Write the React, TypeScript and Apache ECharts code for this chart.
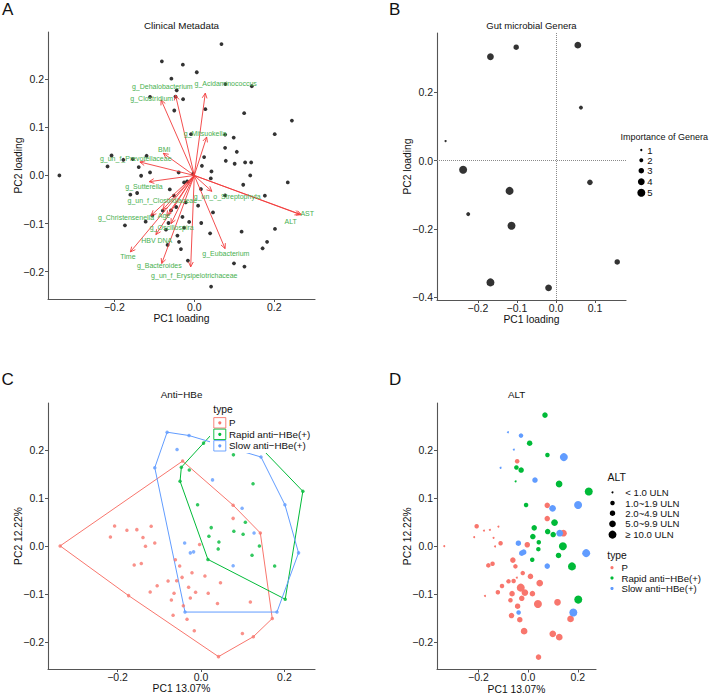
import React, { useEffect, useRef } from "react";
import * as echarts from "echarts";

const FONT = "'Liberation Sans', Arial, Helvetica, sans-serif";
const RED = "#F8766D";
const GREEN = "#00BA38";
const BLUE = "#619CFF";
const AX = "#555555";

// ---- Sample PCA scores (panels A, C, D) ----
const pX = [-0.3375, -0.207, -0.217, -0.1775, -0.1537, -0.139, -0.1193, -0.133, -0.1107, -0.16, -0.143, -0.1735, -0.1217, -0.105, -0.0788, -0.0709, -0.0645, -0.0668, -0.0613, -0.051, -0.0582, -0.0453, -0.0296, -0.0422, -0.0334, -0.044, 0.0771, 0.0771, 0.1423, -0.0033, -0.0215, 0.0095, 0.0468, -0.0129, 0.0174, -0.0255, 0.0396, 0.1184, 0.1709, 0.1255, 0.0993, 0.042, -0.016];
const pY = [0.0, 0.0415, 0.0187, 0.0326, 0.034, 0.0174, 0.0409, -0.0006, 0.0062, -0.04, -0.0365, -0.1037, -0.096, -0.083, -0.0732, -0.1127, -0.0988, -0.1445, -0.029, -0.042, -0.0726, -0.0656, -0.0863, -0.125, -0.153, 0.177, 0.085, 0.0575, 0.027, 0.003, -0.056, -0.0629, -0.0768, -0.0967, -0.0988, -0.1085, -0.1203, -0.1168, -0.1514, -0.1894, -0.1826, -0.231, -0.177];
const pALT = [1, 2, 1, 1, 1, 1, 1, 1, 2, 2, 2, 1, 2, 2, 2, 2, 3, 3, 3, 2, 2, 1, 5, 3, 3, 2, 3, 3, 4, 3, 2, 3, 4, 4, 3, 3, 5, 4, 4, 4, 4, 3, 4];

const rX = [0.068, 0.0062, 0.0778, -0.047, -0.028, -0.0501, 0.1248, 0.2442, -0.0081, 0.0246, 0.1064, 0.0191, 0.0788, 0.101, 0.043, 0.14, 0.0413, 0.0167, 0.1224, 0.1766, 0.2019];
const rY = [0.273, 0.2145, 0.19, 0.164, 0.1585, 0.135, 0.1295, 0.114, 0.0859, 0.0382, 0.0492, 0.0201, 0.0305, 0.0243, 0.0083, 0.0, -0.0062, -0.0282, -0.0193, -0.0421, -0.1112];
const rALT = [3, 3, 2, 2, 3, 1, 4, 5, 2, 3, 4, 3, 3, 3, 2, 5, 2, 2, 3, 5, 5];

const sX = [-0.0811, -0.0286, -0.0573, -0.1107, 0.1439, 0.0277, 0.2012, 0.0986, 0.1272, -0.0391, -0.0255, -0.0177, 0.2339, 0.0771, 0.1821, -0.0382];
const sY = [0.2373, 0.2303, 0.2012, 0.1633, 0.1855, 0.1378, 0.0859, 0.0788, 0.027, 0.0062, -0.0145, -0.0124, -0.0145, -0.0415, -0.138, -0.138];
const sALT = [1, 2, 1, 1, 5, 3, 5, 4, 4, 3, 3, 3, 5, 3, 5, 2];

// ---- Panel A loadings (arrows) ----
const arrowNames = ["g_Dehalobacterium", "g_Clostridium", "g_Acidaminococcus", "g_Mitsuokella", "BMI", "g_un_f_Prevotellaceae", "g_Sutterella", "g_un_f_Clostridiaceae", "g_un_o_Streptophyta", "g_Christensenella", "Age", "g_Oscillospira", "HBV DNA", "Time", "g_Bacteroides", "g_un_f_Erysipelotrichaceae", "g_Eubacterium", "AST", "ALT"];
const arrowTipX = [-0.047, -0.083, 0.0275, 0.031, -0.0775, -0.136, -0.113, -0.079, 0.044, -0.108, -0.069, -0.058, -0.096, -0.16, -0.0815, -0.009, 0.077, 0.268, 0.264];
const arrowTipY = [0.167, 0.157, 0.171, 0.08, 0.046, 0.028, -0.013, -0.071, -0.033, -0.083, -0.084, -0.1, -0.123, -0.159, -0.183, -0.19, -0.152, -0.0815, -0.081];
const labelX = [-0.08, -0.1065, 0.0785, 0.027, -0.075, -0.1465, -0.1258, -0.08, 0.0825, -0.1708, -0.0758, -0.0565, -0.094, -0.166, -0.0875, 0.0, 0.079, 0.2825, 0.241];
const labelY = [0.185, 0.1605, 0.1917, 0.0865, 0.054, 0.0346, -0.0228, -0.053, -0.0435, -0.0878, -0.0836, -0.109, -0.135, -0.168, -0.188, -0.2075, -0.162, -0.08, -0.0954];

// ---- Panel B genera loadings ----
const genX = [-0.168, -0.102, 0.056, 0.064, -0.283, -0.238, -0.119, 0.087, -0.225, -0.114, 0.157, -0.168, -0.019];
const genY = [0.304, 0.332, 0.338, 0.155, 0.057, -0.027, -0.089, -0.064, -0.157, -0.191, -0.297, -0.357, -0.373];
const genImportance = [4, 3, 4, 2, 1, 5, 5, 3, 2, 5, 3, 5, 4];

// ---- Legends / ticks ----
const importanceLevels = ["1", "2", "3", "4", "5"];
const altLevels = ["< 1.0 ULN", "1.0~1.9 ULN", "2.0~4.9 ULN", "5.0~9.9 ULN", "≥ 10.0 ULN"];
const typeLevels = ["P", "Rapid anti−HBe(+)", "Slow anti−HBe(+)"];
const ticksPC1 = [-0.2, 0, 0.2];
const ticksPC2 = [-0.2, -0.1, 0, 0.1, 0.2];
const ticksBx = [-0.2, -0.1, 0, 0.1];
const ticksBy = [-0.4, -0.2, 0, 0.2];

const altSize = [2, 4.5, 5.5, 6.7, 8];
const impSize = [2.3, 4, 5.5, 6.8, 8];

const fmt = (v: number) => (v < -1e-9 ? "−" : "") + Math.abs(v).toFixed(1);

function hull(xs: number[], ys: number[]) {
  const pts = xs.map((x, i) => [x, ys[i]]).sort((a, b) => a[0] - b[0] || a[1] - b[1]);
  const cross = (o: number[], a: number[], b: number[]) => (a[0] - o[0]) * (b[1] - o[1]) - (a[1] - o[1]) * (b[0] - o[0]);
  const lower: number[][] = [];
  for (const p of pts) {
    while (lower.length >= 2 && cross(lower[lower.length - 2], lower[lower.length - 1], p) <= 0) lower.pop();
    lower.push(p);
  }
  const upper: number[][] = [];
  for (const p of pts.slice().reverse()) {
    while (upper.length >= 2 && cross(upper[upper.length - 2], upper[upper.length - 1], p) <= 0) upper.pop();
    upper.push(p);
  }
  upper.pop();
  lower.pop();
  const h = lower.concat(upper);
  h.push(h[0]);
  return h;
}

function axis(gridIndex: number, min: number, max: number, ticks: number[], name: string, isY: boolean) {
  return {
    type: "value",
    gridIndex,
    min,
    max,
    name,
    nameLocation: "middle",
    nameGap: isY ? 24.5 : 14.5,
    nameMoveOverlap: false,
    nameTextStyle: { fontSize: 10.3, color: "#111", fontFamily: FONT },
    axisLine: { show: true, onZero: false, lineStyle: { color: AX, width: 1.1 } },
    axisTick: { show: true, length: 3, customValues: ticks, lineStyle: { color: AX, width: 1 } },
    axisLabel: { customValues: ticks, formatter: fmt, fontSize: 10.5, color: "#1a1a1a", margin: isY ? 4 : 2, fontFamily: FONT },
    splitLine: { show: false },
  };
}

function txt(text: string, x: number, y: number, size: number, align = "left", color = "#111") {
  return {
    type: "text",
    x,
    y,
    z: 100,
    style: {
      text,
      fill: color,
      fontSize: size,
      fontFamily: FONT,
      align,
      verticalAlign: "middle",
      textAlign: align,
      textVerticalAlign: "middle",
    },
  };
}

function buildOption() {
  const allX = [...pX, ...rX, ...sX];
  const allY = [...pY, ...rY, ...sY];
  const groups = [
    { xs: pX, ys: pY, alt: pALT, color: RED, name: typeLevels[0] },
    { xs: rX, ys: rY, alt: rALT, color: GREEN, name: typeLevels[1] },
    { xs: sX, ys: sY, alt: sALT, color: BLUE, name: typeLevels[2] },
  ];

  const series: any[] = [];

  // Panel A
  series.push({
    type: "scatter",
    xAxisIndex: 0,
    yAxisIndex: 0,
    symbolSize: 3.8,
    itemStyle: { color: "#000" },
    data: allX.map((x, i) => [x, allY[i]]),
    silent: true,
    z: 2,
  });
  series.push({
    type: "custom",
    xAxisIndex: 0,
    yAxisIndex: 0,
    data: arrowTipX.map((x, i) => [x, arrowTipY[i]]),
    z: 3,
    silent: true,
    renderItem: (params: any, api: any) => {
      const o = api.coord([0, 0]);
      const t = api.coord([api.value(0), api.value(1)]);
      const ang = Math.atan2(t[1] - o[1], t[0] - o[0]);
      const L = 5.5;
      const a = Math.PI / 7;
      const p1 = [t[0] - L * Math.cos(ang - a), t[1] - L * Math.sin(ang - a)];
      const p2 = [t[0] - L * Math.cos(ang + a), t[1] - L * Math.sin(ang + a)];
      const st = { stroke: "#F23B3B", lineWidth: 0.9, fill: null };
      return {
        type: "group",
        children: [
          { type: "line", shape: { x1: o[0], y1: o[1], x2: t[0], y2: t[1] }, style: st },
          { type: "polyline", shape: { points: [p1, t, p2] }, style: st },
        ],
      };
    },
  });
  series.push({
    type: "custom",
    xAxisIndex: 0,
    yAxisIndex: 0,
    data: labelX.map((x, i) => [x, labelY[i]]),
    z: 4,
    silent: true,
    renderItem: (params: any, api: any) => {
      const c = api.coord([api.value(0), api.value(1)]);
      return {
        type: "text",
        x: c[0],
        y: c[1],
        style: {
          text: arrowNames[params.dataIndex],
          fill: "#47B04F",
          fontSize: 7,
          fontFamily: FONT,
          align: "center",
          verticalAlign: "middle",
          textAlign: "center",
          textVerticalAlign: "middle",
        },
      };
    },
  });

  // Panel B
  series.push({
    type: "scatter",
    xAxisIndex: 1,
    yAxisIndex: 1,
    data: genX.map((x, i) => [x, genY[i], genImportance[i]]),
    symbolSize: (v: number[]) => impSize[v[2] - 1],
    itemStyle: { color: "#000" },
    silent: true,
    markLine: {
      silent: true,
      symbol: "none",
      label: { show: false },
      lineStyle: { type: "dotted", color: "#8a8a8a", width: 1 },
      data: [{ xAxis: 0 }, { yAxis: 0 }],
      animation: false,
    },
  });

  // Panel C
  groups.forEach((g) => {
    series.push({
      type: "line",
      xAxisIndex: 2,
      yAxisIndex: 2,
      data: hull(g.xs, g.ys),
      symbol: "none",
      lineStyle: { color: g.color, width: 1 },
      silent: true,
      z: 1,
    });
  });
  groups.forEach((g) => {
    series.push({
      type: "scatter",
      xAxisIndex: 2,
      yAxisIndex: 2,
      data: g.xs.map((x, i) => [x, g.ys[i]]),
      symbolSize: 3.5,
      itemStyle: { color: g.color },
      silent: true,
      z: 2,
    });
  });

  // Panel D
  groups.forEach((g) => {
    series.push({
      type: "scatter",
      xAxisIndex: 3,
      yAxisIndex: 3,
      data: g.xs.map((x, i) => [x, g.ys[i], g.alt[i]]),
      symbolSize: (v: number[]) => altSize[v[2] - 1],
      itemStyle: { color: g.color, opacity: 1 },
      silent: true,
      z: 2,
    });
  });

  const graphics: any[] = [];
  // Panel letters
  graphics.push(txt("A", 2, 9, 17), txt("B", 389, 9, 17), txt("C", 1.5, 379, 17), txt("D", 389, 379, 17));
  // Titles
  graphics.push(
    txt("Clinical Metadata", 181.5, 25, 9.8, "center"),
    txt("Gut microbial Genera", 531.5, 25, 9.5, "center"),
    txt("Anti−HBe", 181.5, 394.3, 9.8, "center"),
    txt("ALT", 516.5, 394.3, 9.8, "center")
  );

  // B legend
  graphics.push(txt("Importance of Genera", 620.5, 136.7, 9));
  const bY = [150, 160.3, 170.7, 181.7, 192.7];
  importanceLevels.forEach((lv, i) => {
    graphics.push({ type: "circle", z: 100, shape: { cx: 641.3, cy: bY[i], r: impSize[i] / 2 }, style: { fill: "#000" } });
    graphics.push(txt(lv, 647.3, bY[i], 9.5));
  });

  // C legend
  graphics.push({ type: "rect", z: 99, shape: { x: 210, y: 400.5, width: 104, height: 52.5 }, style: { fill: "#fff" } });
  graphics.push(txt("type", 213.3, 409, 10.3));
  const cY = [422.8, 434.3, 445.8];
  groups.forEach((g, i) => {
    graphics.push({
      type: "rect",
      z: 100,
      shape: { x: 213.8, y: cY[i] - 5.2, width: 12, height: 10.4 },
      style: { fill: "#fff", stroke: g.color, lineWidth: 0.9 },
    });
    graphics.push({ type: "circle", z: 101, shape: { cx: 219.8, cy: cY[i], r: 1.6 }, style: { fill: g.color } });
    graphics.push(txt(g.name, 229, cY[i], 9.8));
  });

  // D legend
  graphics.push(txt("ALT", 607.5, 477, 10.5));
  const dY = [492.3, 503, 513.2, 523.8, 534.6];
  altLevels.forEach((lv, i) => {
    graphics.push({ type: "circle", z: 100, shape: { cx: 612.5, cy: dY[i], r: altSize[i] / 2 }, style: { fill: "#000" } });
    graphics.push(txt(lv, 625.3, dY[i], 9.6));
  });
  graphics.push(txt("type", 607.3, 555.2, 10.3));
  const tY = [567.7, 578, 588.5];
  groups.forEach((g, i) => {
    graphics.push({ type: "circle", z: 100, shape: { cx: 612, cy: tY[i], r: 1.6 }, style: { fill: g.color } });
    graphics.push(txt(g.name, 621.5, tY[i], 9.6));
  });

  return {
    animation: false,
    backgroundColor: "#fff",
    textStyle: { fontFamily: FONT },
    grid: [
      { left: 48, top: 32, width: 267, height: 267 },
      { left: 437, top: 33, width: 189, height: 267 },
      { left: 48, top: 403, width: 267, height: 266 },
      { left: 437, top: 403, width: 159, height: 267 },
    ],
    xAxis: [
      axis(0, -0.366, 0.302, ticksPC1, "PC1 loading", false),
      axis(1, -0.305, 0.1795, ticksBx, "PC1 loading", false),
      axis(2, -0.3666, 0.2733, ticksPC1, "PC1 13.07%", false),
      axis(3, -0.3666, 0.2733, ticksPC1, "PC1 13.07%", false),
    ],
    yAxis: [
      axis(0, -0.2568, 0.2982, ticksPC2, "PC2 loading", true),
      axis(1, -0.4086, 0.3736, ticksBy, "PC2 loading", true),
      axis(2, -0.2568, 0.2982, ticksPC2, "PC2 12.22%", true),
      axis(3, -0.2568, 0.2982, ticksPC2, "PC2 12.22%", true),
    ],
    series,
    graphic: { elements: graphics },
  };
}

export default function App() {
  const ref = useRef<HTMLDivElement>(null);
  useEffect(() => {
    if (!ref.current) return;
    const chart = echarts.init(ref.current, null, { renderer: "svg" });
    chart.setOption(buildOption() as any);
    return () => chart.dispose();
  }, []);
  return (
    <div
      ref={ref}
      style={{ position: "absolute", left: 0, top: 0, width: 709, height: 695, background: "#fff" }}
    />
  );
}
